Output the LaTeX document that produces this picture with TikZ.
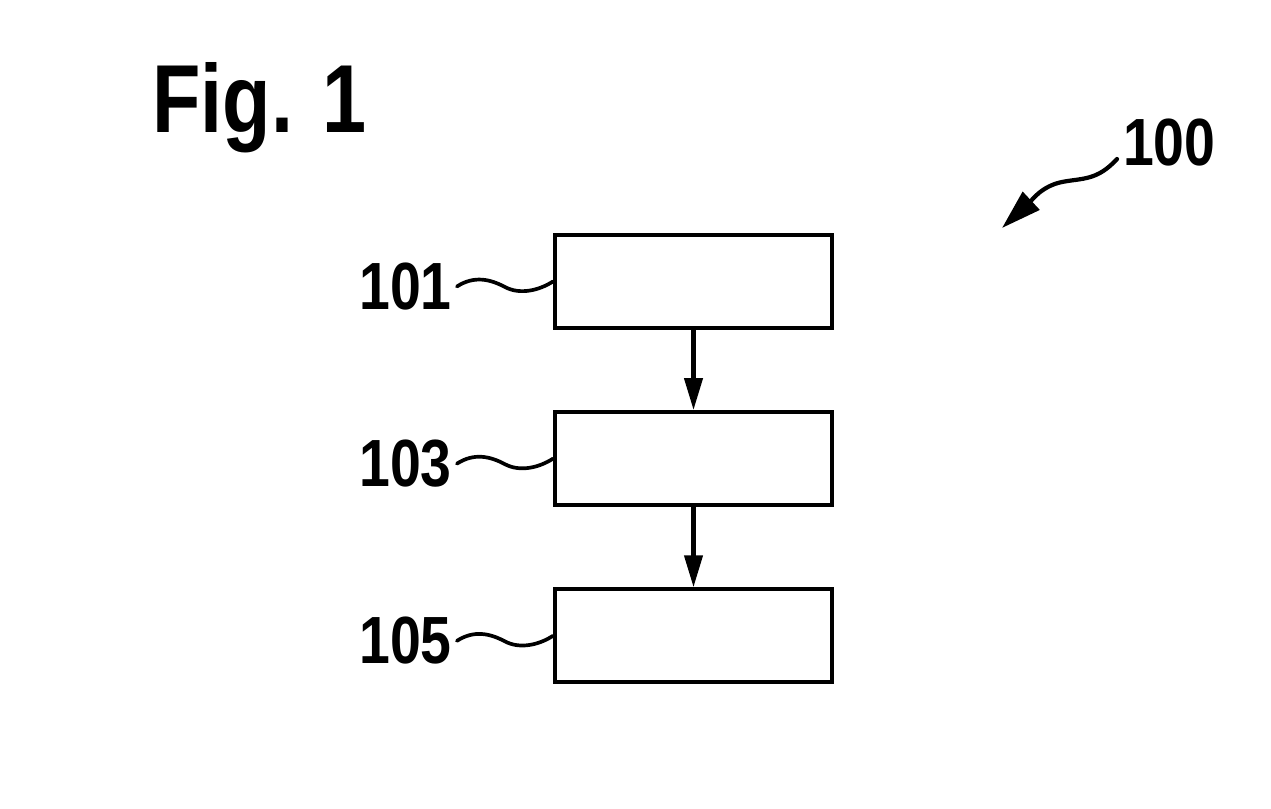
\documentclass[tikz,border=0pt]{standalone}
\usepackage{fontspec}
\usetikzlibrary{arrows.meta,positioning,calc}
\newfontfamily\numfont[FakeStretch=0.83]{Liberation Sans}
\newfontfamily\figfont[FakeStretch=0.82]{Liberation Sans}
\tikzset{
  stepbox/.style={
    rectangle, draw=black, line width=2.4pt,
    minimum width=5.54cm, minimum height=1.86cm,
    inner sep=0pt
  },
  numlabel/.style={
    font=\numfont\bfseries\fontsize{38}{40}\selectfont,
    inner sep=0pt, outer xsep=3pt
  },
  flowarrow/.style={
    -{Triangle[length=0.64cm, width=0.36cm]}, line width=2.4pt
  },
  leadline/.style={
    line width=2.1pt, line cap=round
  },
  refarrow/.style={
    -{Triangle[length=0.8cm, width=0.48cm]}, line width=2.4pt, line cap=round
  },
}
\begin{document}
\begin{tikzpicture}[x=0.02cm, y=-0.02cm]
  \useasboundingbox (0,0) rectangle (1271,808);

  % title and reference numeral
  \node[font=\figfont\bfseries\fontsize{55}{58}\selectfont, inner sep=0pt,
    anchor=base west] (fig) at (152,132) {Fig. 1};
  \node[numlabel, anchor=base west, outer xsep=0pt] (l100) at (1123,165) {100};
  \coordinate (tip100) at (1002,228);
  \draw[refarrow] ($(l100.south west)+(-6,-7)$)
    .. controls +(-20,22) and +(20,-4) .. (1062,182)
    .. controls +(-20,4) and +(30,-28) .. (tip100);

  % process steps
  \node[stepbox] (b101) at (693.5,281.5) {};
  \node[stepbox, below=1.6cm of b101] (b103) {};
  \node[stepbox, below=1.6cm of b103] (b105) {};

  \draw[flowarrow] (b101) -- (b103);
  \draw[flowarrow] (b103) -- (b105);

  % labels with lead lines
  \foreach \n in {101,103,105} {
    \node[numlabel, anchor=east] (l\n) at ($(b\n.west)+(-96,5)$) {\n};
    \coordinate (w\n) at ($(l\n.east)!0.5!(b\n.west)+(0,3)$);
    \draw[leadline] (l\n.east) .. controls +(17,-11) and +(-15,-8) .. (w\n)
      .. controls +(15,8) and +(-14,9) .. (b\n.west);
  }
\end{tikzpicture}
\end{document}
